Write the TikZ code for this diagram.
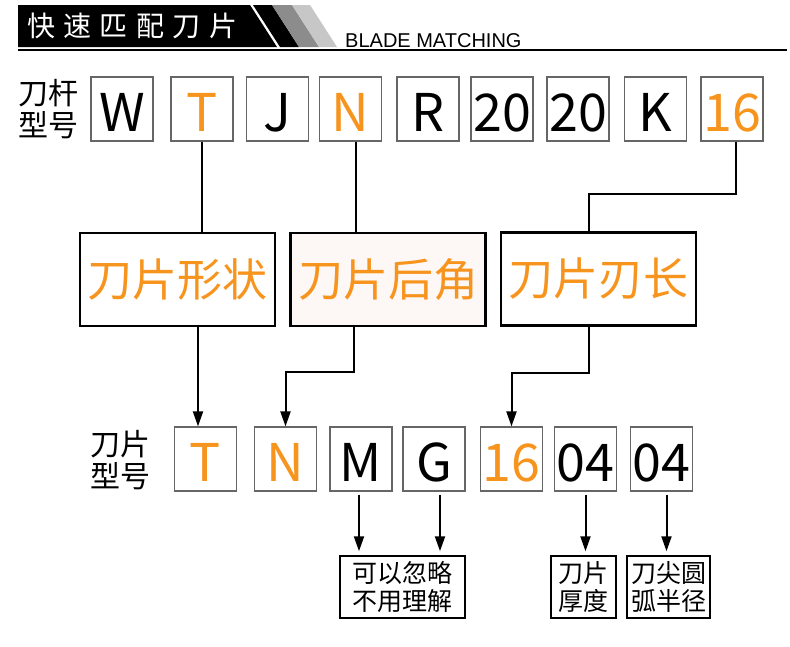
\documentclass[tikz,border=0pt]{standalone}
\usepackage{fontspec}
\setmainfont{Noto Sans CJK SC}
\newfontfamily\latinfont{Liberation Sans}
\newfontfamily\spacedfont[LetterSpace=30]{Noto Sans CJK SC}
\usepackage{xcolor}
\usepackage{tikz}
\usetikzlibrary{arrows.meta,calc}

\definecolor{bladeorange}{RGB}{247,148,30}
\definecolor{anglefill}{RGB}{253,248,246}

\begin{document}
\begin{tikzpicture}[
    x=1pt, y=-1pt,
    letter/.style={draw=black!60, line width=1.2pt, minimum width=62pt, minimum height=64pt, inner sep=0pt, text height=44pt, text depth=0pt, font=\fontsize{52}{52}\selectfont},
    hi/.style={text=bladeorange},
    meaning/.style={draw, line width=2.5pt, minimum width=195pt, minimum height=93pt, inner sep=0pt, text=bladeorange, font=\fontsize{45}{45}\selectfont},
    note/.style={draw, line width=1.5pt, minimum height=62pt, inner sep=0pt, align=center, font=\fontsize{25}{28}\selectfont},
    rowlabel/.style={align=center, inner sep=0pt, font=\fontsize{30}{32}\selectfont},
    wire/.style={line width=2pt},
    arrow/.style={->, >={Triangle[length=15pt,width=10pt]}, line width=2pt}
]
\useasboundingbox (0,0) rectangle (790,646);

% Header bar with stripes
\fill (18,5) -- (250,5) -- (277,47) -- (18,47) -- cycle;
\fill (253,5) -- (272,5) -- (299,47) -- (280,47) -- cycle;
\fill[black!45] (272,5) -- (292,5) -- (319,47) -- (299,47) -- cycle;
\fill[black!22] (292,5) -- (310,5) -- (337,47) -- (319,47) -- cycle;
\draw[line width=1.5pt] (18,50) -- (787,50);
\node[anchor=west, inner sep=0pt, text=white, font=\spacedfont\fontsize{28}{28}\selectfont] (title) at (27,26) {快速匹配刀片};
\node[anchor=base west, inner sep=0pt, font=\latinfont\fontsize{20}{20}\selectfont] (subtitle) at (345,47) {BLADE MATCHING};

% Tool holder code
\node[rowlabel] (holderlabel) at (49,109) {刀杆\\型号};
\node[letter] (tW) at (122,109) {W};
\node[letter, hi] (tT) at (202,109) {T};
\node[letter] (tJ) at (277.5,109) {J};
\node[letter, hi] (tN) at (350.5,109) {N};
\node[letter] (tR) at (428,109) {R};
\node[letter] (tH) at (502,109) {20};
\node[letter] (tB) at (578,109) {20};
\node[letter] (tK) at (655.5,109) {K};
\node[letter, hi] (t16) at (732,109) {16};

% Meaning of the shared letters
\node[meaning] (form) at (177.5,279.5) {刀片形状};
\node[meaning, fill=anglefill] (clear) at (388,279.5) {刀片后角};
\node[meaning] (cutlen) at (598.5,279) {刀片刃长};

\draw[wire] (tT.south) -- (tT.south |- form.north);
\draw[wire] ([xshift=5pt]tN.south) -- ([xshift=5pt]tN.south |- clear.north);
\draw[wire] ([xshift=4pt]t16.south) -- ++(0,52) -| ([xshift=-10pt]cutlen.north);

% Insert code
\node[rowlabel] (insertlabel) at (120,460) {刀片\\型号};
\node[letter, hi] (bT) at (205.5,459) {T};
\node[letter, hi] (bN) at (285.5,459) {N};
\node[letter] (bM) at (361,459) {M};
\node[letter] (bG) at (434,459) {G};
\node[letter, hi] (b16) at (511.5,459) {16};
\node[letter] (bS) at (585.5,459) {04};
\node[letter] (bR) at (661.5,459) {04};

\draw[arrow] ([xshift=-7.5pt]bT.north |- form.south) -- ([xshift=-7.5pt]bT.north);
\draw[arrow] ([xshift=-34pt]clear.south) -- ++(0,45) -| (bN.north);
\draw[arrow] ([xshift=-9.5pt]cutlen.south) -- ++(0,46) -| (b16.north);

% Notes
\node[note, minimum width=125pt] (skip) at (402.5,587) {可以忽略\\不用理解};
\node[note, minimum width=65pt] (thk) at (583.5,587) {刀片\\厚度};
\node[note, minimum width=83pt] (nose) at (668.5,587) {刀尖圆\\弧半径};

\draw[arrow, shorten <=3pt, shorten >=4pt] ([xshift=-2pt]bM.south) -- ([xshift=-2pt]bM.south |- skip.north);
\draw[arrow, shorten <=3pt, shorten >=4pt] ([xshift=6pt]bG.south) -- ([xshift=6pt]bG.south |- skip.north);
\draw[arrow, shorten <=3pt, shorten >=4pt] (bS.south) -- (bS.south |- thk.north);
\draw[arrow, shorten <=3pt, shorten >=4pt] ([xshift=5pt]bR.south) -- ([xshift=5pt]bR.south |- nose.north);

\end{tikzpicture}
\end{document}
